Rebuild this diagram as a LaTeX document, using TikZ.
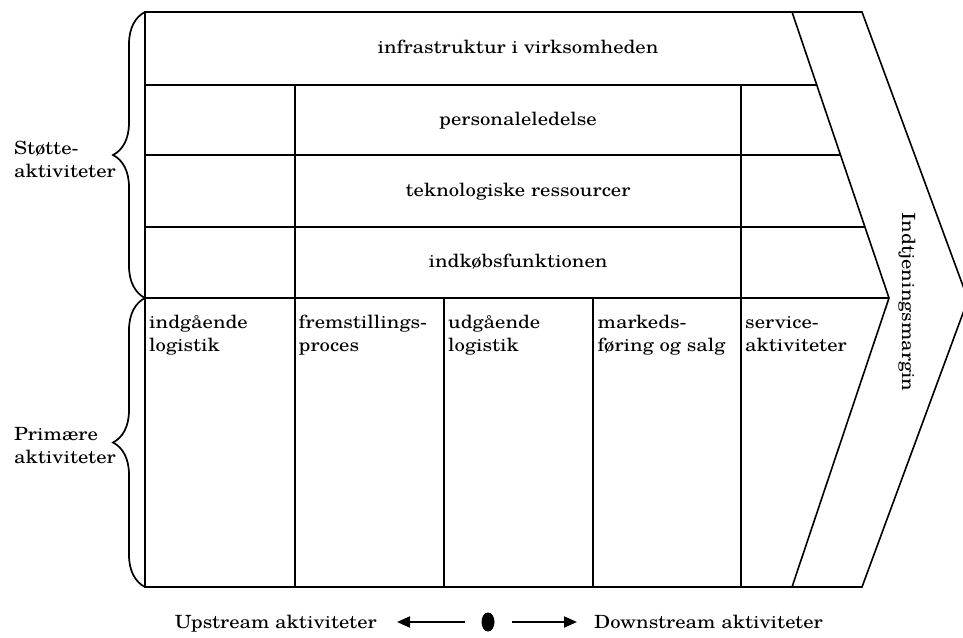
\documentclass[tikz,border=0pt]{standalone}
\usepackage{fontspec}
\setmainfont{TeX Gyre Schola}[FakeStretch=1.135]
\usetikzlibrary{arrows.meta,decorations.pathreplacing,shapes.geometric}
\begin{document}
\begin{tikzpicture}[x=1pt,y=-1pt,
  every node/.style={font=\fontsize{18.2}{23}\selectfont, inner sep=0pt},
  frame/.style={line width=2.4pt, line join=miter},
  gridline/.style={line width=1.6pt},
  chev/.style={line width=1.6pt, line join=miter},
  collabel/.style={align=left, anchor=north west},
  rowlabel/.style={anchor=base},
  sidelabel/.style={align=left, anchor=west},
  brc/.style={decorate, decoration={brace, amplitude=32pt}, line width=1.7pt},
  arr/.style={line width=2pt, -{Triangle[length=13pt,width=11pt]}}
]
\useasboundingbox (0,0) rectangle (963,637);
\clip (0,0) rectangle (963,637);

% key points
\coordinate (TL) at (145,12);
\coordinate (BL) at (145,587);
\coordinate (ITop) at (792,12);
\coordinate (ITip) at (889,298);
\coordinate (IBot) at (792,587);
\coordinate (OTop) at (862,12);
\coordinate (OTip) at (968,299.5);
\coordinate (OBot) at (862,587);
\coordinate (M) at (145,298);

% outer frame
\draw[frame] (IBot) -- (BL) -- (TL) -- (ITop);
\draw[chev] (ITop) -- (OTop) -- (OTip) -- (OBot) -- (IBot);
\draw[chev] (ITop) -- (ITip) -- (IBot);

% support rows
\draw[gridline] (145,85) -- (816.8,85);
\draw[gridline] (145,155) -- (840.5,155);
\draw[gridline] (145,227) -- (864.9,227);
\draw[gridline] (M) -- (ITip);

% columns
\draw[gridline] (295,85) -- (295,587);
\draw[gridline] (741,85) -- (741,587);
\draw[gridline] (444,298) -- (444,587);
\draw[gridline] (593,298) -- (593,587);

% row texts
\node[rowlabel] (infra) at (518,53) {infrastruktur i virksomheden};
\node[rowlabel] (pers) at (518,125) {personaleledelse};
\node[rowlabel] (tekn) at (518,196) {teknologiske ressourcer};
\node[rowlabel] (indk) at (518,267) {indkøbsfunktionen};

% primary activities
\node[collabel] (c1) at (149,312) {\strut indgående\\logistik};
\node[collabel] (c2) at (298.5,312) {\strut fremstillings-\\proces};
\node[collabel] (c3) at (448,312) {\strut udgående\\logistik};
\node[collabel] (c4) at (597.5,312) {\strut markeds-\\føring og salg};
\node[collabel] (c5) at (745,312) {\strut service-\\aktiviteter};

% margin
\node[rotate=-90] (margin) at (907,302) {Indtjeningsmargin};

% braces
\draw[brc] (M) -- (TL);
\draw[brc] (BL) -- (M);
\node[sidelabel] (stoette) at (14,159) {Støtte-\\aktiviteter};
\node[sidelabel] (prim) at (14,446) {Primære\\aktiviteter};

% bottom
\node[ellipse, fill=black, minimum width=13pt, minimum height=19pt] (mid) at (488,622) {};
\node[anchor=base east] (up) at (377,628) {Upstream aktiviteter};
\node[anchor=base west] (dn) at (594,628) {Downstream aktiviteter};
\draw[arr, shorten <=16.5pt, shorten >=20pt] (mid.west) -- (up.east |- mid.west);
\draw[arr, shorten <=17.5pt, shorten >=17pt] (mid.east) -- (dn.west |- mid.east);
\end{tikzpicture}
\end{document}
